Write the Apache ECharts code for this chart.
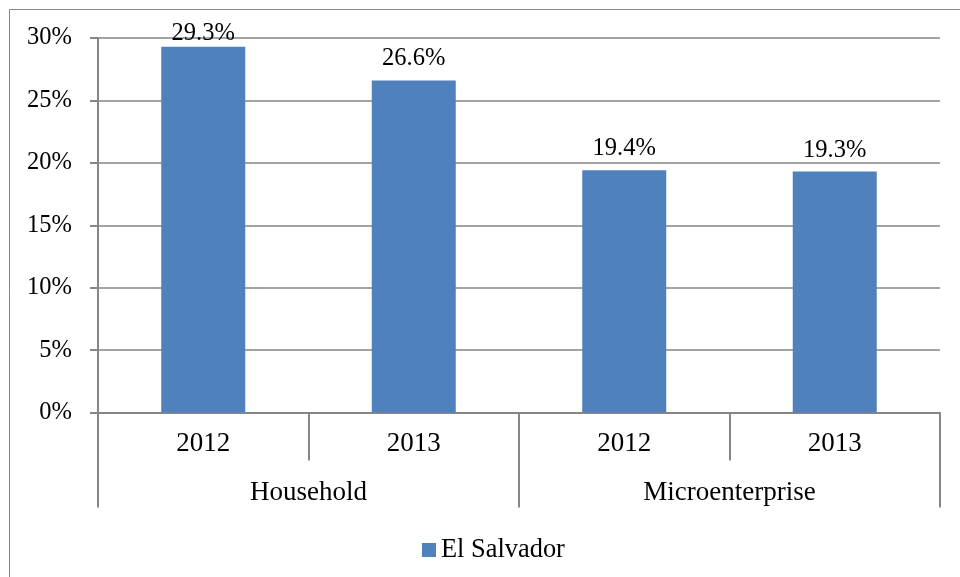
<!DOCTYPE html>
<html>
<head>
<meta charset="utf-8">
<script src="https://cdn.jsdelivr.net/npm/echarts@6/dist/echarts.min.js"></script>
<style>
  html, body { margin: 0; padding: 0; background: #fff; }
  #chart { width: 960px; height: 577px; }
</style>
</head>
<body>
<div id="chart"></div>
<script>
const years = ['2012', '2013', '2012', '2013'];
const groups = ['Household', 'Microenterprise'];
const seriesName = 'El Salvador';
const values = [29.3, 26.6, 19.4, 19.3];

const gray = '#868686';
const font = 'Liberation Serif';

// first label sits closer to its bar (squeezed under the top of the plot)
const barData = values.map((v, i) => i === 0 ? { value: v, label: { distance: 1 } } : v);

const chart = echarts.init(document.getElementById('chart'));
chart.setOption({
  animation: false,
  textStyle: { fontFamily: font, color: '#000' },
  graphic: [{
    type: 'rect',
    shape: { x: 9.5, y: 9.5, width: 1000, height: 1000 },
    style: { fill: 'none', stroke: gray, lineWidth: 1 }
  }],
  grid: { left: 98, right: 20, top: 38, bottom: 164.5 },
  legend: {
    data: [seriesName],
    left: 417,
    top: 532,
    itemWidth: 14,
    itemHeight: 14,
    icon: 'rect',
    textStyle: { fontFamily: font, fontSize: 26.4, color: '#000' }
  },
  xAxis: [{
    type: 'category',
    data: years,
    position: 'bottom',
    offset: 0,
    axisLine: { show: true, lineStyle: { color: gray, width: 2 } },
    axisTick: { show: true, interval: 0, length: 48, lineStyle: { color: gray, width: 2 } },
    axisLabel: { interval: 0, margin: 18, fontSize: 27, color: '#000', fontFamily: font }
  }, {
    type: 'category',
    data: groups,
    position: 'bottom',
    offset: 0,
    axisLine: { show: false },
    axisTick: { show: true, interval: 0, length: 95, lineStyle: { color: gray, width: 2 } },
    axisLabel: { interval: 0, margin: 67, fontSize: 27, color: '#000', fontFamily: font }
  }],
  yAxis: {
    type: 'value',
    min: 0,
    max: 30,
    interval: 5,
    axisLine: { show: true, lineStyle: { color: gray, width: 2 } },
    axisTick: { show: true, length: 8, lineStyle: { color: gray, width: 2 } },
    splitLine: { show: true, lineStyle: { color: gray, width: 1.5 } },
    axisLabel: { formatter: '{value}%', margin: 26, fontSize: 24.5, color: '#000', fontFamily: font }
  },
  series: [{
    name: seriesName,
    type: 'bar',
    data: barData,
    barWidth: 84,
    itemStyle: { color: '#4F81BD' },
    label: {
      show: true,
      position: 'top',
      distance: 9,
      formatter: p => p.value.toFixed(1) + '%',
      fontSize: 24.5,
      color: '#000',
      fontFamily: font
    }
  }]
});
</script>
</body>
</html>
